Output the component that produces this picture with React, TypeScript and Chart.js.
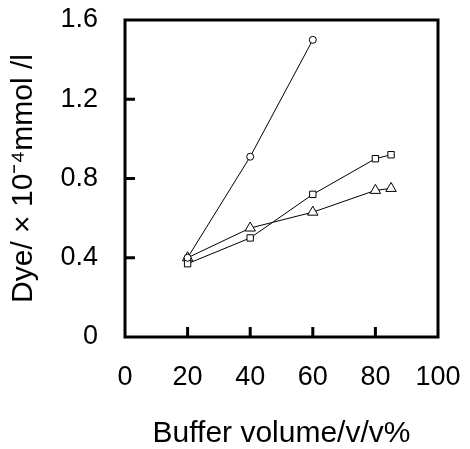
import React, { useEffect, useRef } from "react";
import { Chart, registerables } from "chart.js";

Chart.register(...registerables);

const circleX = [20, 40, 60];
const circleY = [0.4, 0.91, 1.5];
const bufferX = [20, 40, 60, 80, 85];
const squareY = [0.37, 0.5, 0.72, 0.9, 0.92];
const triangleY = [0.4, 0.55, 0.63, 0.74, 0.75];
const xTickValues = [20, 40, 60, 80];
const yTickValues = [0.4, 0.8, 1.2];

const FONT = "'Liberation Sans', Arial, sans-serif";

const framePlugin = {
  id: "frameTicks",
  afterDraw(chart: any) {
    const { ctx, chartArea } = chart;
    const xs = chart.scales.x;
    const ys = chart.scales.y;
    ctx.save();
    ctx.strokeStyle = "#000";
    ctx.lineWidth = 3;
    ctx.strokeRect(chartArea.left, chartArea.top, chartArea.right - chartArea.left, chartArea.bottom - chartArea.top);
    ctx.beginPath();
    for (const v of xTickValues) {
      const px = xs.getPixelForValue(v);
      ctx.moveTo(px, chartArea.bottom);
      ctx.lineTo(px, chartArea.bottom - 10);
    }
    for (const v of yTickValues) {
      const py = ys.getPixelForValue(v);
      ctx.moveTo(chartArea.left, py);
      ctx.lineTo(chartArea.left + 10, py);
    }
    ctx.stroke();
    ctx.restore();
  },
};

export default function App() {
  const ref = useRef<HTMLCanvasElement>(null);
  useEffect(() => {
    const toPts = (xs: number[], ys: number[]) => xs.map((x, i) => ({ x, y: ys[i] }));
    const common = {
      borderColor: "#000",
      borderWidth: 1,
      pointBackgroundColor: "#fff",
      pointBorderColor: "#000",
      pointBorderWidth: 1,
      tension: 0,
      fill: false,
    };
    const chart = new Chart(ref.current!, {
      type: "line",
      data: {
        datasets: [
          { ...common, label: "circle", data: toPts(circleX, circleY), pointStyle: "circle", pointRadius: 3.5 },
          { ...common, label: "square", data: toPts(bufferX, squareY), pointStyle: "rect", pointRadius: 4.5 },
          { ...common, label: "triangle", data: toPts(bufferX, triangleY), pointStyle: "triangle", pointRadius: 6 },
        ],
      },
      options: {
        animation: false,
        responsive: false,
        maintainAspectRatio: false,
        layout: { padding: { left: 0, right: 32, top: 20, bottom: 0 } },
        plugins: { legend: { display: false }, tooltip: { enabled: false } },
        scales: {
          x: {
            type: "linear",
            min: 0,
            max: 100,
            grid: { display: false, drawTicks: true, tickLength: 24 },
            border: { display: false },
            ticks: { stepSize: 20, color: "#000", font: { family: FONT, size: 27 }, padding: 0, maxRotation: 0 },
            title: {
              display: true,
              text: "Buffer volume/v/v%",
              color: "#000",
              font: { family: FONT, size: 30, lineHeight: 1.0 },
              padding: { top: 0, bottom: 0 },
            },
            afterFit(scale: any) {
              scale.height = 112;
            },
          },
          y: {
            type: "linear",
            min: 0,
            max: 1.6,
            grid: { display: false, drawTicks: true, tickLength: 27 },
            border: { display: false },
            ticks: {
              stepSize: 0.4,
              color: "#000",
              font: { family: FONT, size: 27 },
              padding: 0,
              callback: (v: any) => (Number(v) === 0 ? "0" : Number(v).toFixed(1)),
            },
            title: {
              display: true,
              text: "Dye/ × 10⁻⁴mmol /l",
              color: "#000",
              font: { family: FONT, size: 30, lineHeight: 1.0 },
              padding: { top: 9, bottom: 0 },
            },
            afterFit(scale: any) {
              scale.width = 125;
            },
          },
        },
      },
      plugins: [framePlugin],
    });
    return () => chart.destroy();
  }, []);
  return (
    <div style={{ position: "fixed", left: 0, top: 0, width: 470, height: 449, background: "#fff" }}>
      <canvas ref={ref} width={470} height={449} />
    </div>
  );
}
